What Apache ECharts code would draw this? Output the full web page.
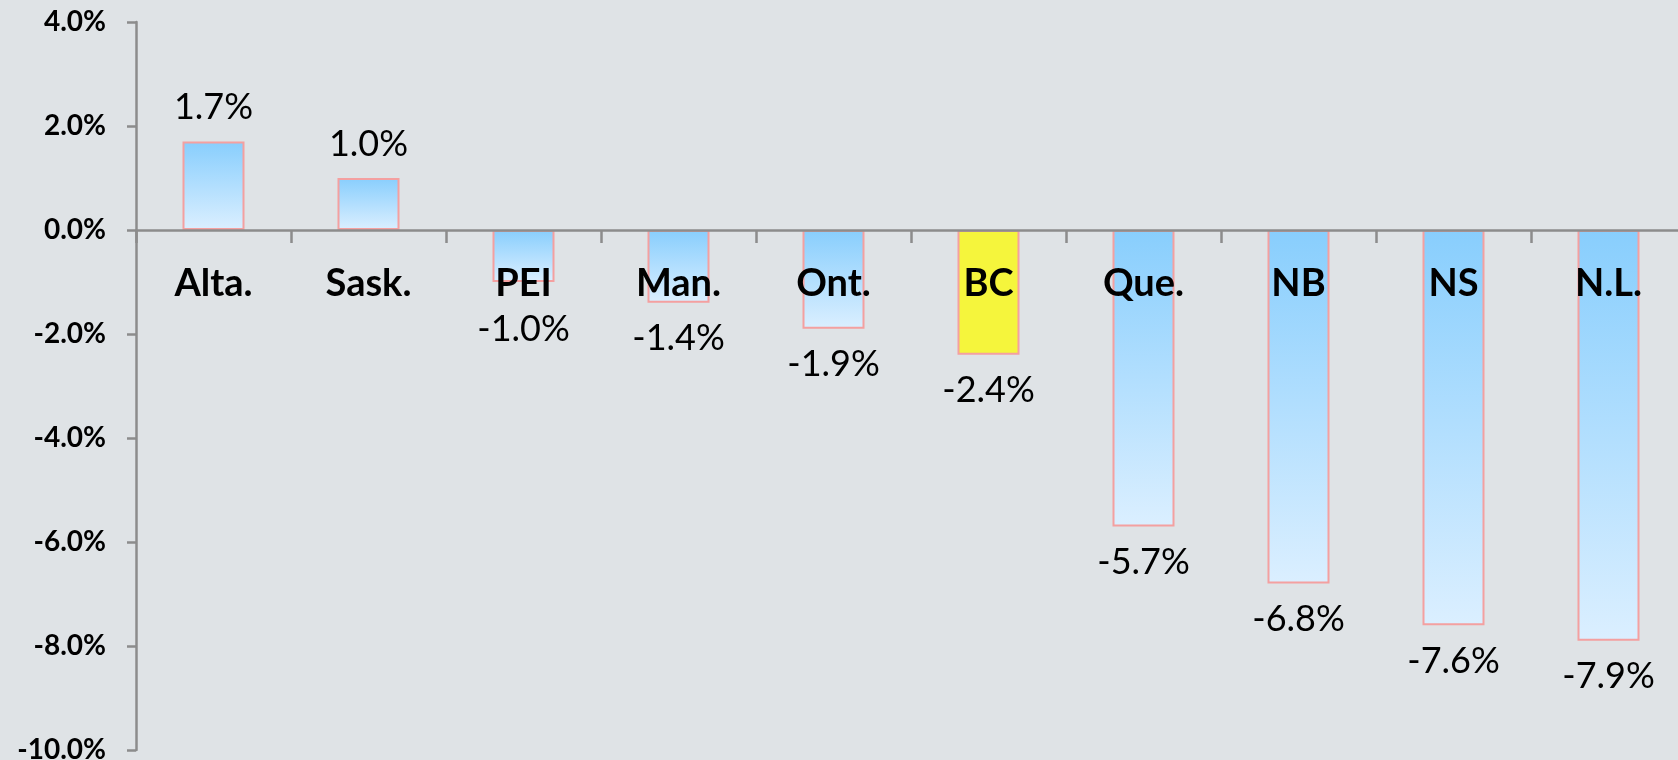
<!DOCTYPE html>
<html>
<head>
<meta charset="utf-8">
<script src="https://cdn.jsdelivr.net/npm/echarts@6/dist/echarts.min.js"></script>
<style>
  html, body { margin: 0; padding: 0; background: #dfe3e6; }
  #chart { width: 1678px; height: 760px; }
</style>
</head>
<body>
<div id="chart"></div>
<script>
const provinces = ['Alta.', 'Sask.', 'PEI', 'Man.', 'Ont.', 'BC', 'Que.', 'NB', 'NS', 'N.L.'];
const changes = [1.7, 1.0, -1.0, -1.4, -1.9, -2.4, -5.7, -6.8, -7.6, -7.9];
const highlight = 'BC';

const FONT = 'Lato, "Open Sans", sans-serif';
const BORDER = '#f4a0a0';

// grid: 0% sits 208px below the top, -10% at the bottom (728px tall)
const GRID_TOP = 22;
const GRID_BOTTOM = 10;
const ZERO_FROM_BOTTOM = 520;

const blueFill = new echarts.graphic.LinearGradient(0, 0, 0, 1, [
  { offset: 0, color: '#88cefd' },
  { offset: 1, color: '#dbefff' }
]);

// PEI's label sits a bit lower in the original so it clears the axis text
const barData = changes.map((v, i) => ({
  value: v,
  itemStyle: { color: provinces[i] === highlight ? '#f5f53c' : blueFill },
  label: {
    position: v >= 0 ? 'top' : 'bottom',
    distance: provinces[i] === 'PEI' ? 29 : (v >= 0 ? 16 : 18)
  }
}));

const chart = echarts.init(document.getElementById('chart'));
chart.setOption({
  backgroundColor: '#dfe3e6',
  animation: false,
  grid: { left: 136, right: -8, top: GRID_TOP, bottom: GRID_BOTTOM, outerBoundsMode: 'none', containLabel: false },
  xAxis: {
    type: 'category',
    data: provinces,
    z: 10,
    position: 'bottom',
    offset: -ZERO_FROM_BOTTOM,
    axisLine: { onZero: false, lineStyle: { color: '#8c8c8c', width: 2.5 } },
    axisTick: { show: true, length: 13, lineStyle: { color: '#8c8c8c', width: 2.5 } },
    axisLabel: { color: '#000', fontFamily: FONT, fontWeight: 'bold', fontSize: 38, margin: 35 }
  },
  yAxis: {
    type: 'value',
    min: -10,
    max: 4,
    interval: 2,
    axisLine: { show: true, onZero: false, lineStyle: { color: '#8c8c8c', width: 2.5 } },
    axisTick: { show: true, length: 9, lineStyle: { color: '#8c8c8c', width: 2.5 } },
    splitLine: { show: false },
    axisLabel: {
      color: '#000',
      fontFamily: FONT,
      fontWeight: 'bold',
      fontSize: 28,
      margin: 30,
      formatter: (v) => v.toFixed(1) + '%'
    }
  },
  series: [
    {
      type: 'bar',
      data: barData,
      barWidth: 62,
      itemStyle: { borderColor: BORDER, borderWidth: 2 },
      label: {
        show: true,
        color: '#000',
        fontFamily: FONT,
        fontSize: 36,
        formatter: (p) => p.value.toFixed(1) + '%'
      }
    }
  ]
});
</script>
</body>
</html>
